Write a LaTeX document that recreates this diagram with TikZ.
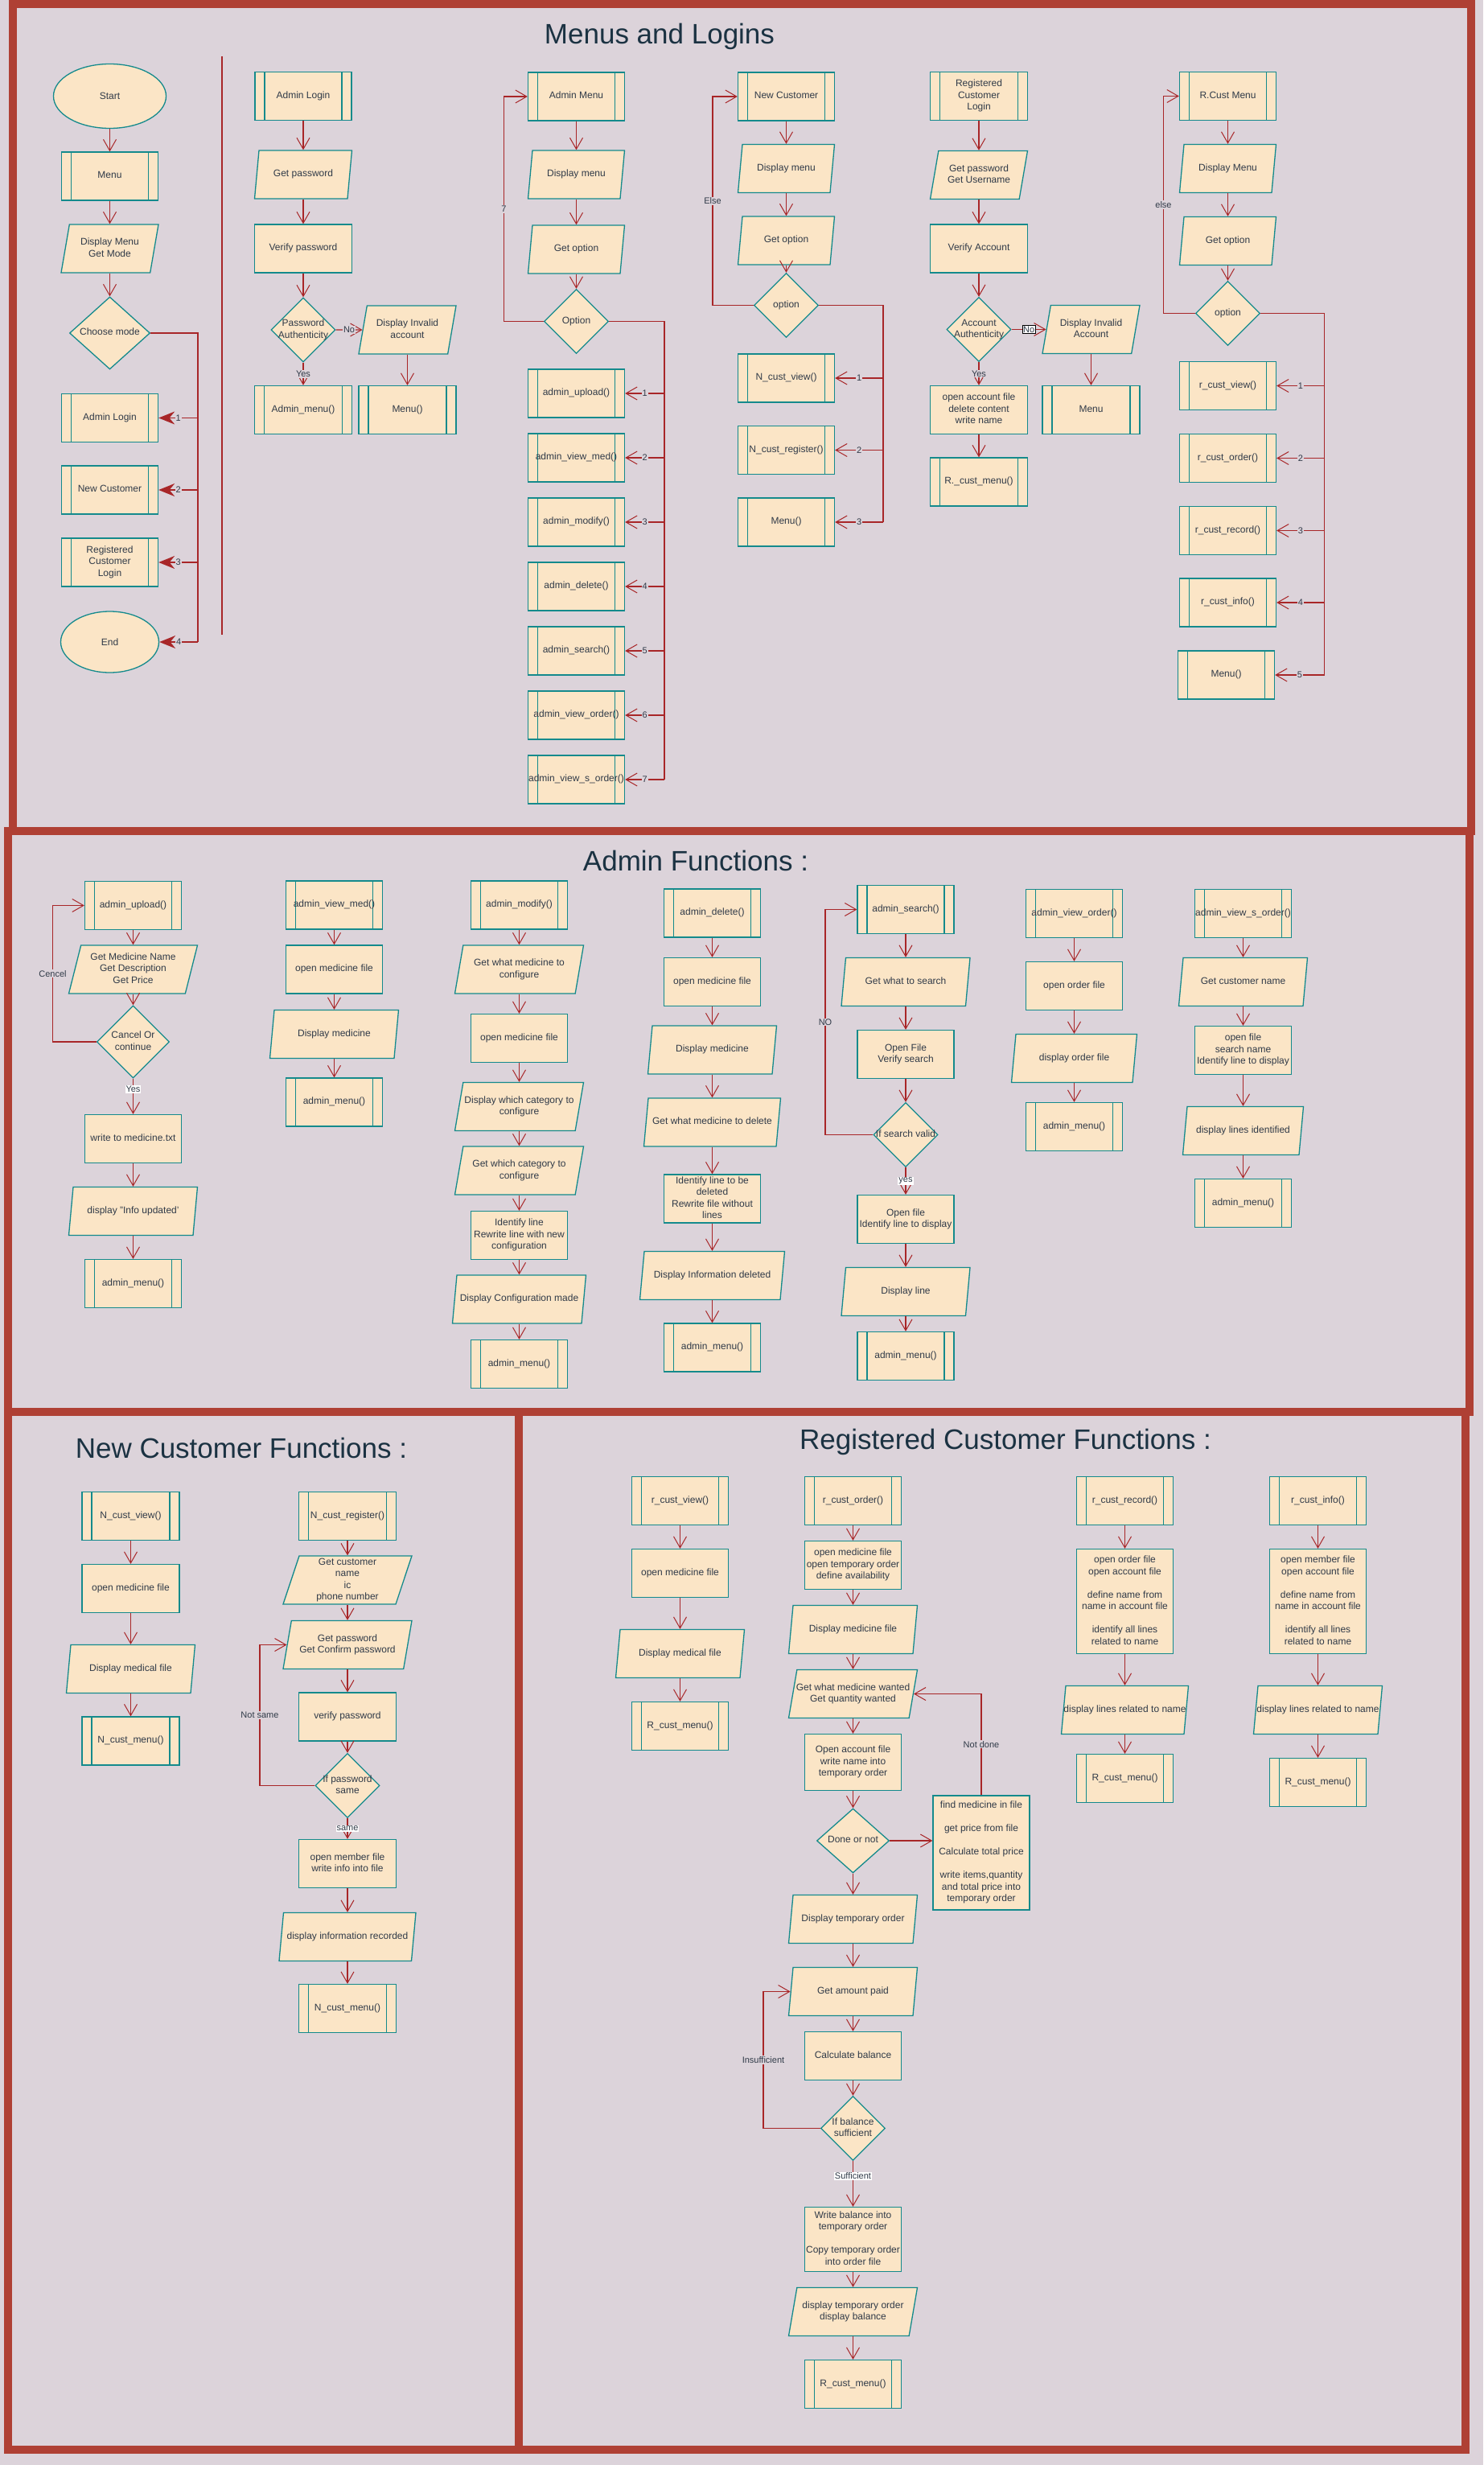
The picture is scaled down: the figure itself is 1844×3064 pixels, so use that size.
\documentclass[tikz,border=0pt]{standalone}
\usepackage{fontspec}
\setmainfont{Liberation Sans}
\usetikzlibrary{shapes.geometric,arrows.meta,positioning}
\definecolor{bgcol}{RGB}{220,211,218}
\definecolor{framecol}{RGB}{175,64,52}
\definecolor{boxfill}{RGB}{251,229,198}
\definecolor{boxline}{RGB}{20,138,140}
\definecolor{linkcol}{RGB}{168,38,40}
\definecolor{txtcol}{RGB}{48,58,72}
\definecolor{titlecol}{RGB}{27,50,66}
\newcommand{\boxtxt}[1]{\makebox[0pt]{\begin{tabular}{@{}c@{}}#1\end{tabular}}}
\tikzset{%
  shapebase/.style = {draw=boxline, fill=boxfill, line width=1.3pt,%
                      inner sep=1pt, text=txtcol,%
                      font=\fontsize{12}{14.5}\selectfont},%
  procnode/.style  = {shapebase, rectangle, minimum width=120pt, minimum height=60pt},%
  subnode/.style   = {procnode, path picture={%
                      \draw[boxline, line width=1.3pt]
                        ([xshift=12pt]path picture bounding box.north west) --
                        ([xshift=12pt]path picture bounding box.south west)
                        ([xshift=-12pt]path picture bounding box.north east) --
                        ([xshift=-12pt]path picture bounding box.south east);}},%
  ionode/.style    = {shapebase, trapezium, trapezium left angle=71.57,%
                      trapezium right angle=108.43, trapezium stretches body=true,%
                      minimum width=160pt, minimum height=60pt},%
  decnode/.style   = {shapebase, diamond, minimum width=80pt, minimum height=80pt},%
  termnode/.style  = {shapebase, ellipse},%
  link/.style      = {draw=linkcol, line width=1.2pt},%
  flow/.style      = {link, -{Straight Barb[length=14pt,width=16pt,line width=1pt]}},%
  pick/.style      = {link, -{Stealth[length=20pt,width=16pt]}},%
  frame/.style     = {draw=framecol, line width=10pt},%
  heading/.style   = {text=titlecol, font=\fontsize{35}{42}\selectfont}%
}
\begin{document}
\begin{tikzpicture}[x=1pt,y=-1pt,
    choice/.style={font=\fontsize{11}{13}\selectfont, text=txtcol, fill=bgcol, inner sep=1pt},
    tag/.style={choice, fill=white}]
  \fill[bgcol] (0,0) rectangle (1844,3064);
  \useasboundingbox (0,0) rectangle (1844,3064);
  \draw[frame] (16,5) rectangle (1829,1033);
  \draw[frame] (10,1033) rectangle (1827,1755);
  \draw[frame] (10,1755) rectangle (645,3045);
  \draw[frame] (645,1755) rectangle (1822,3045);

  \node[heading] (hdml) at (820,45) {Menus and Logins};
  \node[heading] (hdaf) at (865,1070) {Admin Functions :};
  \node[heading] (hdnc) at (300,1800) {New Customer Functions :};
  \node[heading] (hdrc) at (1250,1792) {Registered Customer Functions :};

  % menus and logins
  \node[termnode, minimum width=140pt, minimum height=80pt] (st) at (136.5,119.5) {Start};
  \node[subnode] (mn) at (136.5,219) {\boxtxt{Menu}};
  \node[ionode, minimum width=121pt] (dm) at (136.5,309) {\boxtxt{Display Menu\\Get Mode}};
  \node[decnode, minimum width=100pt, minimum height=90pt] (cm) at (136.5,414) {\boxtxt{Choose mode}};
  \node[subnode] (al) at (136.5,519.5) {\boxtxt{Admin Login}};
  \node[subnode] (nc) at (136.5,609) {\boxtxt{New Customer}};
  \node[subnode] (rc) at (136.5,699) {\boxtxt{Registered\\Customer\\Login}};
  \node[termnode, minimum width=122pt, minimum height=76pt] (en) at (136.5,798) {End};
  \coordinate (busa) at (246,0);
  \draw[flow] (st) -- (mn);
  \draw[flow] (mn) -- (dm);
  \draw[flow] (dm) -- (cm);
  \draw[link] (cm.east) -| (busa |- en.east);
  \draw[pick] (busa |- al.east) -- node[choice] {1} (al.east);
  \draw[pick] (busa |- nc.east) -- node[choice] {2} (nc.east);
  \draw[pick] (busa |- rc.east) -- node[choice] {3} (rc.east);
  \draw[pick] (busa |- en.east) -- node[choice] {4} (en.east);
  \draw[link] (276,70) -- (276,789);

  \node[subnode] (alg) at (377,119.5) {\boxtxt{Admin Login}};
  \node[ionode, minimum width=121pt] (gp) at (377,217) {\boxtxt{Get password}};
  \node[procnode, minimum width=121pt] (vp) at (377,309) {\boxtxt{Verify password}};
  \node[decnode] (pa) at (377,410) {\boxtxt{Password\\Authenticity}};
  \node[ionode, minimum width=121pt] (di) at (506.5,410) {\boxtxt{Display Invalid\\account}};
  \node[subnode, minimum width=121pt] (amc) at (377,509.5) {\boxtxt{Admin\_menu()}};
  \node[subnode, minimum width=121pt] (mc) at (506.5,509.5) {\boxtxt{Menu()}};
  \draw[flow] (alg) -- (gp);
  \draw[flow] (gp) -- (vp);
  \draw[flow] (vp) -- (pa);
  \draw[flow] (pa) -- node[choice] {Yes} (amc);
  \draw[flow] (pa) -- node[choice] {No} (di);
  \draw[flow] (di) -- (mc);

  \node[subnode] (am) at (716.5,120) {\boxtxt{Admin Menu}};
  \node[ionode, minimum width=120pt] (adm) at (716.5,217) {\boxtxt{Display menu}};
  \node[ionode, minimum width=120pt] (ago) at (716.5,310) {\boxtxt{Get option}};
  \node[decnode] (aop) at (716.5,399.5) {\boxtxt{Option}};
  \node[subnode] (a1) at (716.5,489) {\boxtxt{admin\_upload()}};
  \node[subnode] (a2) at (716.5,569) {\boxtxt{admin\_view\_med()}};
  \node[subnode] (a3) at (716.5,649) {\boxtxt{admin\_modify()}};
  \node[subnode] (a4) at (716.5,729) {\boxtxt{admin\_delete()}};
  \node[subnode] (a5) at (716.5,809) {\boxtxt{admin\_search()}};
  \node[subnode] (a6) at (716.5,889) {\boxtxt{admin\_view\_order()}};
  \node[subnode] (a7) at (716.5,969) {\boxtxt{admin\_view\_s\_order()}};
  \coordinate (busc) at (826,0);
  \coordinate (lpc) at (626.5,0);
  \draw[flow] (am) -- (adm);
  \draw[flow] (adm) -- (ago);
  \draw[flow] (ago) -- (aop);
  \draw[flow] (aop.west) -- (aop.west -| lpc) -- node[choice] {7} (lpc |- am.west) -- (am.west);
  \draw[link] (aop.east) -| (busc |- a7.east);
  \draw[flow] (busc |- a1.east) -- node[choice] {1} (a1.east);
  \draw[flow] (busc |- a2.east) -- node[choice] {2} (a2.east);
  \draw[flow] (busc |- a3.east) -- node[choice] {3} (a3.east);
  \draw[flow] (busc |- a4.east) -- node[choice] {4} (a4.east);
  \draw[flow] (busc |- a5.east) -- node[choice] {5} (a5.east);
  \draw[flow] (busc |- a6.east) -- node[choice] {6} (a6.east);
  \draw[flow] (busc |- a7.east) -- node[choice] {7} (a7.east);

  \node[subnode] (ncm) at (977.5,120) {\boxtxt{New Customer}};
  \node[ionode, minimum width=120pt] (ndm) at (977.5,209.5) {\boxtxt{Display menu}};
  \node[ionode, minimum width=120pt] (ngo) at (977.5,299) {\boxtxt{Get option}};
  \node[decnode] (nop) at (977.5,379.5) {\boxtxt{option}};
  \node[subnode] (n1) at (977.5,470) {\boxtxt{N\_cust\_view()}};
  \node[subnode] (n2) at (977.5,559.5) {\boxtxt{N\_cust\_register()}};
  \node[subnode] (n3) at (977.5,649) {\boxtxt{Menu()}};
  \coordinate (busd) at (1098,0);
  \coordinate (lpd) at (886,0);
  \draw[flow] (ncm) -- (ndm);
  \draw[flow] (ndm) -- (ngo);
  \draw[flow] (ngo) -- (nop);
  \draw[flow] (nop.west) -- (nop.west -| lpd) -- node[choice] {Else} (lpd |- ncm.west) -- (ncm.west);
  \draw[link] (nop.east) -| (busd |- n3.east);
  \draw[flow] (busd |- n1.east) -- node[choice] {1} (n1.east);
  \draw[flow] (busd |- n2.east) -- node[choice] {2} (n2.east);
  \draw[flow] (busd |- n3.east) -- node[choice] {3} (n3.east);

  \node[subnode, minimum width=121pt] (rcl) at (1217,119.5) {\boxtxt{Registered\\Customer\\Login}};
  \node[ionode, minimum width=121pt] (rgp) at (1217,217.5) {\boxtxt{Get password\\Get Username}};
  \node[procnode, minimum width=121pt] (rva) at (1217,309) {\boxtxt{Verify Account}};
  \node[decnode] (raa) at (1217,409.5) {\boxtxt{Account\\Authenticity}};
  \node[ionode, minimum width=121pt] (rdi) at (1356.5,409.5) {\boxtxt{Display Invalid\\Account}};
  \node[procnode, minimum width=121pt] (roa) at (1217,509.5) {\boxtxt{open account file\\delete content\\write name}};
  \node[subnode, minimum width=121pt] (rme) at (1356.5,509.5) {\boxtxt{Menu}};
  \node[subnode, minimum width=121pt] (rrm) at (1217,599) {\boxtxt{R.\_cust\_menu()}};
  \draw[flow] (rcl) -- (rgp);
  \draw[flow] (rgp) -- (rva);
  \draw[flow] (rva) -- (raa);
  \draw[flow] (raa) -- node[choice] {Yes} (roa);
  \draw[flow] (raa) -- node[tag, draw=black, line width=0.8pt] {No} (rdi);
  \draw[flow] (rdi) -- (rme);
  \draw[flow] (roa) -- (rrm);

  \node[subnode] (rcm) at (1526.5,119.5) {\boxtxt{R.Cust Menu}};
  \node[ionode, minimum width=120pt] (rdm) at (1526.5,209.5) {\boxtxt{Display Menu}};
  \node[ionode, minimum width=120pt] (rgo) at (1526.5,299.5) {\boxtxt{Get option}};
  \node[decnode] (rop) at (1526.5,389.5) {\boxtxt{option}};
  \node[subnode] (r1) at (1526.5,479.5) {\boxtxt{r\_cust\_view()}};
  \node[subnode] (r2) at (1526.5,569.5) {\boxtxt{r\_cust\_order()}};
  \node[subnode] (r3) at (1526.5,659.5) {\boxtxt{r\_cust\_record()}};
  \node[subnode] (r4) at (1526.5,749) {\boxtxt{r\_cust\_info()}};
  \node[subnode] (r5) at (1524.5,839) {\boxtxt{Menu()}};
  \coordinate (busf) at (1646.5,0);
  \coordinate (lpf) at (1446.5,0);
  \draw[flow] (rcm) -- (rdm);
  \draw[flow] (rdm) -- (rgo);
  \draw[flow] (rgo) -- (rop);
  \draw[flow] (rop.west) -- (rop.west -| lpf) -- node[choice] {else} (lpf |- rcm.west) -- (rcm.west);
  \draw[link] (rop.east) -| (busf |- r5.east);
  \draw[flow] (busf |- r1.east) -- node[choice] {1} (r1.east);
  \draw[flow] (busf |- r2.east) -- node[choice] {2} (r2.east);
  \draw[flow] (busf |- r3.east) -- node[choice] {3} (r3.east);
  \draw[flow] (busf |- r4.east) -- node[choice] {4} (r4.east);
  \draw[flow] (busf |- r5.east) -- node[choice] {5} (r5.east);

  % admin functions
  \node[subnode] (au) at (165.5,1125.5) {\boxtxt{admin\_upload()}};
  \node[ionode] (gm) at (165.5,1205) {\boxtxt{Get Medicine Name\\Get Description\\Get Price}};
  \node[decnode, minimum width=90pt, minimum height=90pt] (cc) at (165.5,1295) {\boxtxt{Cancel Or\\continue}};
  \node[procnode] (wm) at (165.5,1415.5) {\boxtxt{write to medicine.txt}};
  \node[ionode] (du) at (165.5,1505.5) {\boxtxt{display "Info updated'}};
  \node[subnode] (au2) at (165.5,1595.5) {\boxtxt{admin\_menu()}};
  \coordinate (lpu) at (65.5,0);
  \draw[flow] (au) -- (gm);
  \draw[flow] (gm) -- (cc);
  \draw[flow] (cc) -- node[tag, pos=0.3] {Yes} (wm);
  \draw[flow] (cc.west) -- (cc.west -| lpu) -- node[choice] {Cencel} (lpu |- au.west) -- (au.west);
  \draw[flow] (wm) -- (du);
  \draw[flow] (du) -- (au2);

  \node[subnode] (av) at (415.5,1125) {\boxtxt{admin\_view\_med()}};
  \node[procnode] (om) at (415.5,1205) {\boxtxt{open medicine file}};
  \node[ionode] (dmd) at (415.5,1285.5) {\boxtxt{Display medicine}};
  \node[subnode] (av2) at (415.5,1370) {\boxtxt{admin\_menu()}};
  \draw[flow] (av) -- (om);
  \draw[flow] (om) -- (dmd);
  \draw[flow] (dmd) -- (av2);

  \node[subnode] (amo) at (645.5,1125) {\boxtxt{admin\_modify()}};
  \node[ionode] (gwc) at (645.5,1205) {\boxtxt{Get what medicine to\\configure}};
  \node[procnode] (om2) at (645.5,1290.5) {\boxtxt{open medicine file}};
  \node[ionode] (dwc) at (645.5,1375.5) {\boxtxt{Display which category to\\configure}};
  \node[ionode] (gwc2) at (645.5,1455) {\boxtxt{Get which category to\\configure}};
  \node[procnode] (irl) at (645.5,1535.5) {\boxtxt{Identify line\\Rewrite line with new\\configuration}};
  \node[ionode, minimum width=166pt] (dcm) at (645.5,1615) {\boxtxt{Display Configuration made}};
  \node[subnode] (amo2) at (645.5,1695.5) {\boxtxt{admin\_menu()}};
  \draw[flow] (amo) -- (gwc);
  \draw[flow] (gwc) -- (om2);
  \draw[flow] (om2) -- (dwc);
  \draw[flow] (dwc) -- (gwc2);
  \draw[flow] (gwc2) -- (irl);
  \draw[flow] (irl) -- (dcm);
  \draw[flow] (dcm) -- (amo2);

  \node[subnode] (ad) at (885.5,1135) {\boxtxt{admin\_delete()}};
  \node[procnode] (om3) at (885.5,1220.5) {\boxtxt{open medicine file}};
  \node[ionode] (dmd2) at (885.5,1305) {\boxtxt{Display medicine}};
  \node[ionode, minimum width=170pt] (gwd) at (885.5,1395) {\boxtxt{Get what medicine to delete}};
  \node[procnode] (ild) at (885.5,1490) {\boxtxt{Identify line to be\\deleted\\Rewrite file without\\lines}};
  \node[ionode, minimum width=180pt] (did) at (885.5,1585.5) {\boxtxt{Display Information deleted}};
  \node[subnode] (ad2) at (885.5,1675) {\boxtxt{admin\_menu()}};
  \draw[flow] (ad) -- (om3);
  \draw[flow] (om3) -- (dmd2);
  \draw[flow] (dmd2) -- (gwd);
  \draw[flow] (gwd) -- (ild);
  \draw[flow] (ild) -- (did);
  \draw[flow] (did) -- (ad2);

  \node[subnode] (as) at (1126,1130.5) {\boxtxt{admin\_search()}};
  \node[ionode] (gws) at (1126,1220.5) {\boxtxt{Get what to search}};
  \node[procnode] (ofv) at (1126,1310.5) {\boxtxt{Open File\\Verify search}};
  \node[decnode] (sv) at (1126,1410.5) {\boxtxt{If search valid}};
  \node[procnode] (ofi) at (1126,1515.5) {\boxtxt{Open file\\Identify line to display}};
  \node[ionode] (dl) at (1126,1605.5) {\boxtxt{Display line}};
  \node[subnode] (as2) at (1126,1685.5) {\boxtxt{admin\_menu()}};
  \coordinate (lps) at (1026,0);
  \draw[flow] (as) -- (gws);
  \draw[flow] (gws) -- (ofv);
  \draw[flow] (ofv) -- (sv);
  \draw[flow] (sv) -- node[tag] {yes} (ofi);
  \draw[flow] (sv.west) -- (sv.west -| lps) -- node[choice] {NO} (lps |- as.west) -- (as.west);
  \draw[flow] (ofi) -- (dl);
  \draw[flow] (dl) -- (as2);

  \node[subnode] (avo) at (1335.5,1135.5) {\boxtxt{admin\_view\_order()}};
  \node[procnode] (oof) at (1335.5,1225.5) {\boxtxt{open order file}};
  \node[ionode, minimum width=156pt] (dof) at (1335.5,1315.5) {\boxtxt{display order file}};
  \node[subnode] (avo2) at (1335.5,1400.5) {\boxtxt{admin\_menu()}};
  \draw[flow] (avo) -- (oof);
  \draw[flow] (oof) -- (dof);
  \draw[flow] (dof) -- (avo2);

  \node[subnode] (avs) at (1545.5,1135.5) {\boxtxt{admin\_view\_s\_order()}};
  \node[ionode] (gcn) at (1545.5,1220.5) {\boxtxt{Get customer name}};
  \node[procnode] (ofs) at (1545.5,1305.5) {\boxtxt{open file\\search name\\Identify line to display}};
  \node[ionode, minimum width=150pt] (dli) at (1545.5,1405.5) {\boxtxt{display lines identified}};
  \node[subnode] (avs2) at (1545.5,1495.5) {\boxtxt{admin\_menu()}};
  \draw[flow] (avs) -- (gcn);
  \draw[flow] (gcn) -- (ofs);
  \draw[flow] (ofs) -- (dli);
  \draw[flow] (dli) -- (avs2);

  % new customer functions
  \node[subnode, minimum width=121pt] (ncv) at (162.5,1884.5) {\boxtxt{N\_cust\_view()}};
  \node[procnode, minimum width=121pt] (nom) at (162.5,1974.5) {\boxtxt{open medicine file}};
  \node[ionode] (ndf) at (162.5,2074.5) {\boxtxt{Display medical file}};
  \node[subnode, minimum width=121pt] (ncm1) at (162.5,2164) {\boxtxt{N\_cust\_menu()}};
  \draw[flow] (ncv) -- (nom);
  \draw[flow] (nom) -- (ndf);
  \draw[flow] (ndf) -- (ncm1);

  \node[subnode, minimum width=121pt] (ncr) at (432,1884.5) {\boxtxt{N\_cust\_register()}};
  \node[ionode] (gcd) at (432,1964) {\boxtxt{Get customer\\name\\ic\\phone number}};
  \node[ionode] (gcp) at (432,2044.5) {\boxtxt{Get password\\Get Confirm password}};
  \node[procnode, minimum width=121pt] (vpw) at (432,2134) {\boxtxt{verify password}};
  \node[decnode] (ps) at (432,2219.5) {\boxtxt{If password\\same}};
  \node[procnode, minimum width=121pt] (omf) at (432,2316.5) {\boxtxt{open member file\\write info into file}};
  \node[ionode, minimum width=170pt] (dir) at (432,2407.5) {\boxtxt{display information recorded}};
  \node[subnode, minimum width=121pt] (ncm2) at (432,2496.5) {\boxtxt{N\_cust\_menu()}};
  \coordinate (lpp) at (323,0);
  \draw[flow] (ncr) -- (gcd);
  \draw[flow] (gcd) -- (gcp);
  \draw[flow] (gcp) -- (vpw);
  \draw[flow] (vpw) -- (ps);
  \draw[flow] (ps) -- node[tag] {same} (omf);
  \draw[flow] (ps.west) -- (ps.west -| lpp) -- node[choice] {Not same} (lpp |- gcp.west) -- (gcp.west);
  \draw[flow] (omf) -- (dir);
  \draw[flow] (dir) -- (ncm2);

  % registered customer functions
  \node[subnode] (rv) at (845.5,1865.5) {\boxtxt{r\_cust\_view()}};
  \node[procnode] (rom) at (845.5,1955.5) {\boxtxt{open medicine file}};
  \node[ionode] (rdf) at (845.5,2055.5) {\boxtxt{Display medical file}};
  \node[subnode] (rvm) at (845.5,2145.5) {\boxtxt{R\_cust\_menu()}};
  \draw[flow] (rv) -- (rom);
  \draw[flow] (rom) -- (rdf);
  \draw[flow] (rdf) -- (rvm);

  \node[subnode] (ro) at (1060.5,1865.5) {\boxtxt{r\_cust\_order()}};
  \node[procnode] (rot) at (1060.5,1945.5) {\boxtxt{open medicine file\\open temporary order\\define availability}};
  \node[ionode] (rdmf) at (1060.5,2025.5) {\boxtxt{Display medicine file}};
  \node[ionode] (rgw) at (1060.5,2105.5) {\boxtxt{Get what medicine wanted\\Get quantity wanted}};
  \node[procnode, minimum height=70pt] (roa2) at (1060.5,2190.5) {\boxtxt{Open account file\\write name into\\temporary order}};
  \node[decnode, minimum width=90pt] (dn) at (1060.5,2288) {\boxtxt{Done or not}};
  \node[procnode, minimum height=142pt] (fm) at (1220,2303) {\boxtxt{find medicine in file\\ \\get price from file\\ \\Calculate total price\\ \\write items,quantity\\and total price into\\temporary order}};
  \node[ionode] (dto) at (1060.5,2385.5) {\boxtxt{Display temporary order}};
  \node[ionode] (gap) at (1060.5,2475.5) {\boxtxt{Get amount paid}};
  \node[procnode] (cb) at (1060.5,2555.5) {\boxtxt{Calculate balance}};
  \node[decnode] (bs) at (1060.5,2645.5) {\boxtxt{If balance\\sufficient}};
  \node[procnode, minimum height=80pt] (wb) at (1060.5,2783.5) {\boxtxt{Write balance into\\temporary order\\ \\Copy temporary order\\into order file}};
  \node[ionode] (dtb) at (1060.5,2873.5) {\boxtxt{display temporary order\\display balance}};
  \node[subnode] (rom2) at (1060.5,2963.5) {\boxtxt{R\_cust\_menu()}};
  \coordinate (lpb) at (949,0);
  \draw[flow] (ro) -- (rot);
  \draw[flow] (rot) -- (rdmf);
  \draw[flow] (rdmf) -- (rgw);
  \draw[flow] (rgw) -- (roa2);
  \draw[flow] (roa2) -- (dn);
  \draw[flow] (dn.east) -- (dn.east -| fm.west);
  \draw[flow] (fm.north) -- node[choice] {Not done} (fm.north |- rgw.east) -- (rgw.east);
  \draw[flow] (dn) -- (dto);
  \draw[flow] (dto) -- (gap);
  \draw[flow] (gap) -- (cb);
  \draw[flow] (cb) -- (bs);
  \draw[flow] (bs) -- node[tag, pos=0.33] {Sufficient} (wb);
  \draw[flow] (bs.west) -- (bs.west -| lpb) -- node[choice] {Insufficient} (lpb |- gap.west) -- (gap.west);
  \draw[flow] (wb) -- (dtb);
  \draw[flow] (dtb) -- (rom2);

  \node[subnode] (rr) at (1398.5,1865.5) {\boxtxt{r\_cust\_record()}};
  \node[procnode, minimum height=130pt] (roo) at (1398.5,1990.5) {\boxtxt{open order file\\open account file\\ \\define name from\\name in account file\\ \\identify all lines\\related to name}};
  \node[ionode, minimum width=158pt] (rdl) at (1398.5,2125.5) {\boxtxt{display lines related to name}};
  \node[subnode] (rrm2) at (1398.5,2210.5) {\boxtxt{R\_cust\_menu()}};
  \draw[flow] (rr) -- (roo);
  \draw[flow] (roo) -- (rdl);
  \draw[flow] (rdl) -- (rrm2);

  \node[subnode] (ri) at (1638.5,1865.5) {\boxtxt{r\_cust\_info()}};
  \node[procnode, minimum height=130pt] (rmo) at (1638.5,1990.5) {\boxtxt{open member file\\open account file\\ \\define name from\\name in account file\\ \\identify all lines\\related to name}};
  \node[ionode] (rdl2) at (1638.5,2125.5) {\boxtxt{display lines related to name}};
  \node[subnode] (rrm3) at (1638.5,2215.5) {\boxtxt{R\_cust\_menu()}};
  \draw[flow] (ri) -- (rmo);
  \draw[flow] (rmo) -- (rdl2);
  \draw[flow] (rdl2) -- (rrm3);
\end{tikzpicture}
\end{document}
